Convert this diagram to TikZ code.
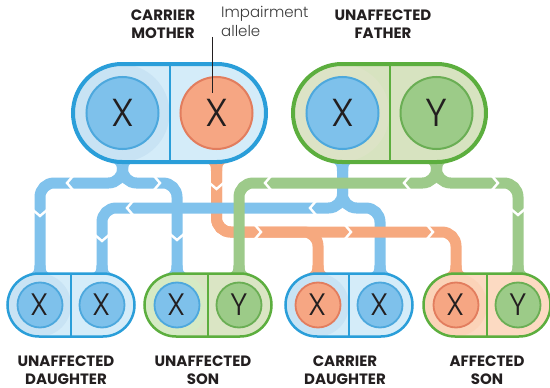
\documentclass[tikz,border=0pt]{standalone}
\usepackage{fontspec}
\setmainfont{Poppins}
\newfontfamily\thinfont{Poppins}[UprightFont={* Light}]
\usepackage{tikz}
\usetikzlibrary{calc,backgrounds}
\definecolor{ink}{HTML}{231F20}
\definecolor{notegrey}{HTML}{3A3A3A}
\definecolor{bandblue}{HTML}{80C2EC}
\definecolor{bandgreen}{HTML}{9DCA8A}
\definecolor{bandorange}{HTML}{F6A97F}
\definecolor{blueedge}{HTML}{2A9ED9}
\definecolor{blueL}{HTML}{C8E3F4}
\definecolor{blueR}{HTML}{D4ECF9}
\definecolor{greenedge}{HTML}{5CAE3E}
\definecolor{beigeL}{HTML}{DCE3C6}
\definecolor{beigeR}{HTML}{D7E3C0}
\definecolor{mintL}{HTML}{D5EAC4}
\definecolor{mintR}{HTML}{DAE5C4}
\definecolor{peachL}{HTML}{FBD3B8}
\definecolor{peachR}{HTML}{FCDAC2}
\definecolor{discblue}{HTML}{7EC1EB}
\definecolor{discblueedge}{HTML}{4DA8DD}
\definecolor{discorange}{HTML}{F6A683}
\definecolor{discorangeedge}{HTML}{E27D5E}
\definecolor{discgreen}{HTML}{9CCB88}
\definecolor{discgreenedge}{HTML}{6AAE54}

\begin{document}
\begin{tikzpicture}[x=1pt,y=-1pt,
  band/.style={line width=11pt,rounded corners=14pt},
  bigpill/.style={rectangle,minimum width=193pt,minimum height=98pt,rounded corners=49pt,line width=4pt},
  kidpill/.style={rectangle,minimum width=127pt,minimum height=63pt,rounded corners=31.5pt,line width=2.5pt},
  halves/.style n args={3}{draw=#1,fill=#3,path picture={
      \fill[#2] (path picture bounding box.south west) rectangle (path picture bounding box.north);
      \draw[#1,line width=2pt] (path picture bounding box.north) -- (path picture bounding box.south);}},
  bigdisc/.style={circle,minimum size=72pt,inner sep=0pt,line width=2pt,text=ink,
    font=\thinfont\fontsize{39}{39}\selectfont},
  kiddisc/.style={circle,minimum size=45pt,inner sep=0pt,line width=1.8pt,text=ink,
    font=\thinfont\fontsize{31}{31}\selectfont},
  xb/.style={fill=discblue,draw=discblueedge},
  xo/.style={fill=discorange,draw=discorangeedge},
  yg/.style={fill=discgreen,draw=discgreenedge},
  lbl/.style={font=\bfseries\fontsize{15}{17.5}\selectfont,align=center,text=ink},
  note/.style={font=\thinfont\fontsize{15}{19}\selectfont,align=left,text=notegrey,inner sep=0pt},
  notch/.pic={\draw[white,line width=2.4pt] (-3,-7) -- (3,0) -- (-3,7);},
  flare/.pic={\fill (-11,0) .. controls (-6,0) and (-5.5,3) .. (-5.5,8) -- (5.5,8) .. controls (5.5,3) and (6,0) .. (11,0) -- cycle;}]
  \useasboundingbox (0,0) rectangle (550,388);

  % parents
  \node[bigpill,halves={blueedge}{blueL}{blueR}] (mother) at (169.5,113) {};
  \node[bigpill,halves={greenedge}{beigeL}{beigeR}] (father) at (389.5,113) {};
  \node[bigdisc,xb] (mX) at (122.5,113) {X};
  \node[bigdisc,xo] (mXo) at (216.5,113) {X};
  \node[bigdisc,xb] (fX) at (342.5,113) {X};
  \node[bigdisc,yg] (fY) at (436.5,113) {Y};
  \node[lbl] (mumlbl) at (163,24) {CARRIER\\MOTHER};
  \node[lbl] (dadlbl) at (383,24) {UNAFFECTED\\FATHER};
  \node[note,anchor=north west] (allele) at (221,6) {Impairment\\allele};
  \draw[ink,line width=0.7pt] ([xshift=-4pt]mXo.center |- allele.south) -- ([xshift=-4pt,yshift=20pt]mXo.center);

  % children
  \node[kidpill,halves={blueedge}{blueL}{blueR}] (kid1) at (71,305) {};
  \node[kidpill,halves={greenedge}{mintL}{mintR}] (kid2) at (208,305) {};
  \node[kidpill,halves={blueedge}{blueL}{blueR}] (kid3) at (349,305) {};
  \node[kidpill,halves={greenedge}{peachL}{peachR}] (kid4) at (487,305) {};
  \node[kiddisc,xb] (c1a) at (40,305) {X};
  \node[kiddisc,xb] (c1b) at (102,305) {X};
  \node[kiddisc,xb] (c2a) at (177,305) {X};
  \node[kiddisc,yg] (c2b) at (239,305) {Y};
  \node[kiddisc,xo] (c3a) at (318,305) {X};
  \node[kiddisc,xb] (c3b) at (380,305) {X};
  \node[kiddisc,xo] (c4a) at (456,305) {X};
  \node[kiddisc,yg] (c4b) at (518,305) {Y};
  \node[lbl] (kid1lbl) at (66,370) {UNAFFECTED\\DAUGHTER};
  \node[lbl] (kid2lbl) at (203,370) {UNAFFECTED\\SON};
  \node[lbl] (kid3lbl) at (345,370) {CARRIER\\DAUGHTER};
  \node[lbl] (kid4lbl) at (487,370) {AFFECTED\\SON};

  % inheritance bands, drawn under the pills
  \coordinate (splitA) at (0,183);
  \coordinate (splitB) at (0,208);
  \coordinate (splitD) at (0,232);
  \begin{pgfonlayer}{background}
    \draw[band,bandblue] (fX |- father.south) |- (c3b |- splitB) -- (c3b |- kid3.north);
    \draw[band,bandorange] (mXo |- mother.south) |- (c3a |- splitD) -- (c3a |- kid3.north);
    \draw[band,bandorange] (mXo |- mother.south) |- (c4a |- splitD) -- (c4a |- kid4.north);
    \draw[band,bandblue] (mX |- mother.south) |- (c1a |- splitA) -- (c1a |- kid1.north);
    \draw[band,bandblue] (mX |- mother.south) |- (c2a |- splitA) -- (c2a |- kid2.north);
    \draw[band,bandblue] (fX |- father.south) |- (c1b |- splitB) -- (c1b |- kid1.north);
    \draw[band,bandgreen] (fY |- father.south) |- (c2b |- splitA) -- (c2b |- kid2.north);
    \draw[band,bandgreen] (fY |- father.south) |- (c4b |- splitA) -- (c4b |- kid4.north);
    % flared joins where the bands meet the pills
    \foreach \n/\p/\c in {mX/mother/bandblue,mXo/mother/bandorange,fX/father/bandblue,fY/father/bandgreen}
      \pic[\c] at ([yshift=1pt]\n |- \p.south) {flare};
    \foreach \n/\p/\c in {c1a/kid1/bandblue,c1b/kid1/bandblue,c2a/kid2/bandblue,c2b/kid2/bandgreen,
        c3a/kid3/bandorange,c3b/kid3/bandblue,c4a/kid4/bandorange,c4b/kid4/bandgreen}
      \pic[\c,yscale=-1] at ([yshift=-1pt]\n |- \p.north) {flare};
    % direction notches
    \foreach \nx/\ny/\turn in {70/183/180,40/213/-90,157/183/0,177/237/-90,
        313/208/180,130/208/180,102/238/-90,407/183/180,268/183/180,
        495/183/0,518/212/-90,216.5/186/-90,258/232/0,348/232/0,430/232/0}
      \pic[rotate=\turn] at (\nx,\ny) {notch};
  \end{pgfonlayer}
\end{tikzpicture}
\end{document}
